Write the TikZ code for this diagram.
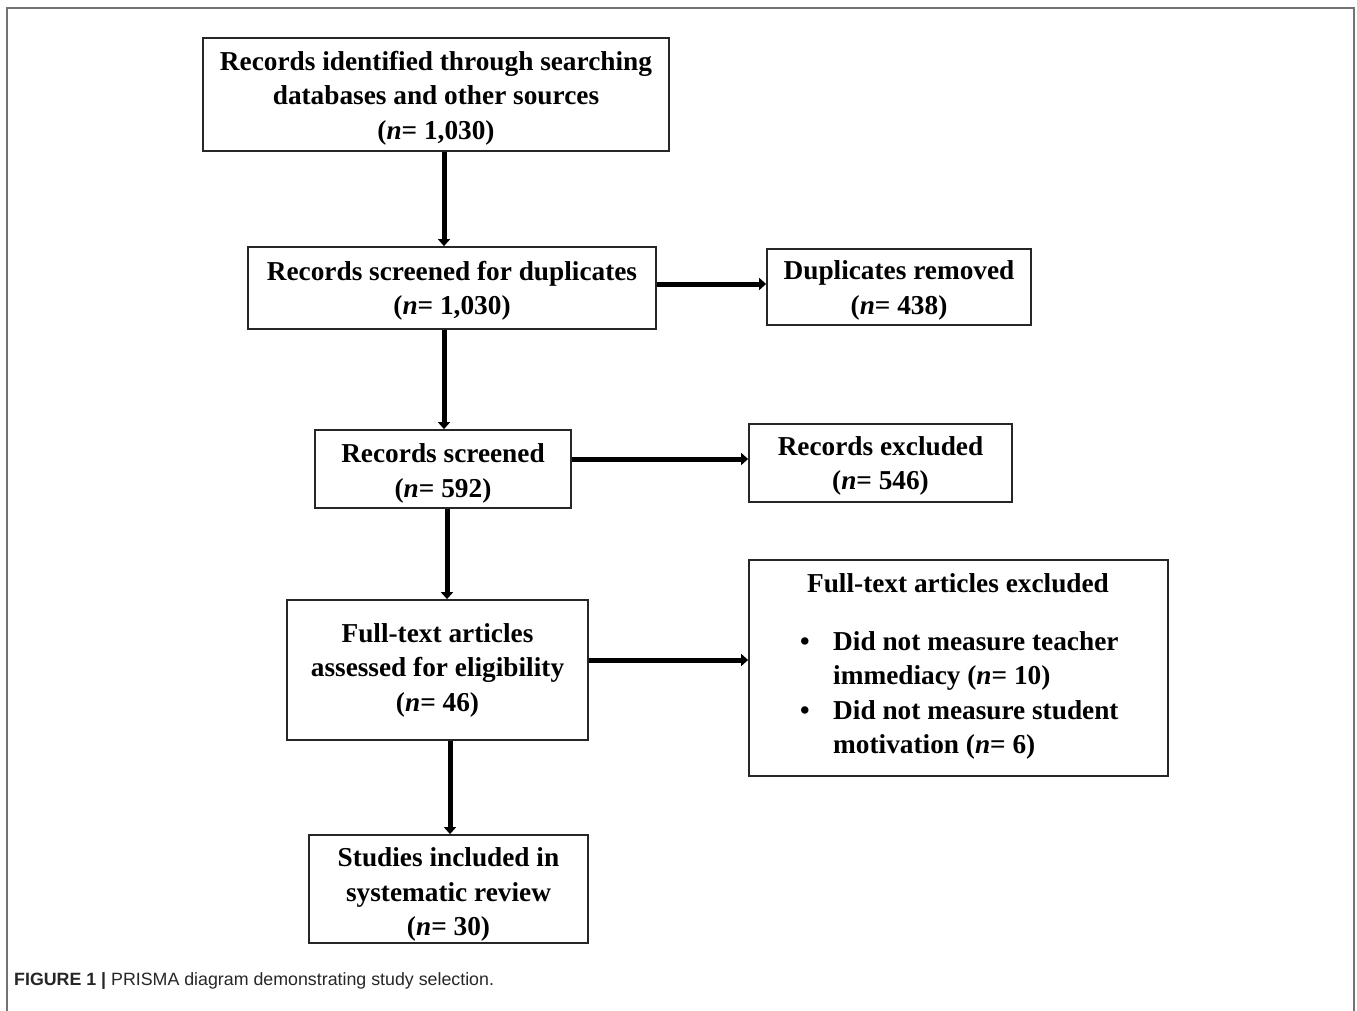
\documentclass[tikz,border=0pt]{standalone}
\usepackage{fontspec}
\setmainfont{Liberation Serif}
\newfontfamily\capfont{Liberation Sans}
\usetikzlibrary{arrows.meta}
\newcommand\mytstrut[1]{\rule{0pt}{#1pt}}
\begin{document}
\begin{tikzpicture}[x=1pt,y=-1pt,
  box/.style={draw=black!85,line width=1.8pt,align=center,inner sep=0pt,
    font=\bfseries\fontsize{27.3}{34.5}\selectfont},
  txt/.style={align=left,inner sep=0pt,anchor=west,
    font=\bfseries\fontsize{27.3}{34.5}\selectfont},
  arr/.style={line width=5pt,-{Triangle[length=7pt,width=12pt]}}]
\useasboundingbox (0,0) rectangle (1357,1011);
\draw[draw=black!55,line width=2pt] (7,1011) -- (7,8) -- (1354,8) -- (1354,1011);
% boxes
\node[box,minimum width=466,minimum height=113] (b1) at (436,94.5)
  {\mytstrut{26.5}Records identified through searching\\databases and other sources\\(\textit{n}= 1,030)};
\node[box,minimum width=408,minimum height=82] (b2) at (452,288)
  {\mytstrut{24.5}Records screened for duplicates\\(\textit{n}= 1,030)};
\node[box,minimum width=264,minimum height=76] (b3) at (899,287)
  {\mytstrut{25.5}Duplicates removed\\(\textit{n}= 438)};
\node[box,minimum width=256,minimum height=78] (b4) at (443,469)
  {\mytstrut{28}Records screened\\(\textit{n}= 592)};
\node[box,minimum width=263,minimum height=78] (b5) at (880.5,463)
  {\mytstrut{24.5}Records excluded\\(\textit{n}= 546)};
\node[box,minimum width=301,minimum height=140] (b6) at (437.5,670)
  {Full-text articles\\assessed for eligibility\\(\textit{n}= 46)};
\node[box,minimum width=419,minimum height=216] (b7) at (958.5,668) {};
\node[box,minimum width=279,minimum height=108] (b8) at (448.5,889)
  {\mytstrut{30}Studies included in\\systematic review\\(\textit{n}= 30)};
% box 7 text
\node[box,draw=none,anchor=center] (t7) at (958,583) {Full-text articles excluded};
\node[txt] (u1) at (800,644) {\textbullet};
\node[txt] (l1) at (833,661) {Did not measure teacher\\immediacy (\textit{n}= 10)};
\node[txt] (u2) at (800,713) {\textbullet};
\node[txt] (l2) at (833,730) {Did not measure student\\motivation (\textit{n}= 6)};
% arrows
\draw[arr] (b1.south -| 444,0) -- (b2.north -| 444,0);
\draw[arr] (b2.south -| 444,0) -- (b4.north -| 444,0);
\draw[arr] (b4.south -| 447,0) -- (b6.north -| 447,0);
\draw[arr] (b6.south -| 450,0) -- (b8.north -| 450,0);
\draw[arr] (b2.east |- 0,284) -- (b3.west |- 0,284);
\draw[arr] (b4.east |- 0,459) -- (b5.west |- 0,459);
\draw[arr] (b6.east |- 0,660) -- (b7.west |- 0,660);
% caption
\node[anchor=base west,inner sep=0pt,font=\capfont\fontsize{17.8}{20}\selectfont,text=black!85] (cap) at (14,985)
  {\textbf{FIGURE 1 |} PRISMA diagram demonstrating study selection.};
\end{tikzpicture}
\end{document}
